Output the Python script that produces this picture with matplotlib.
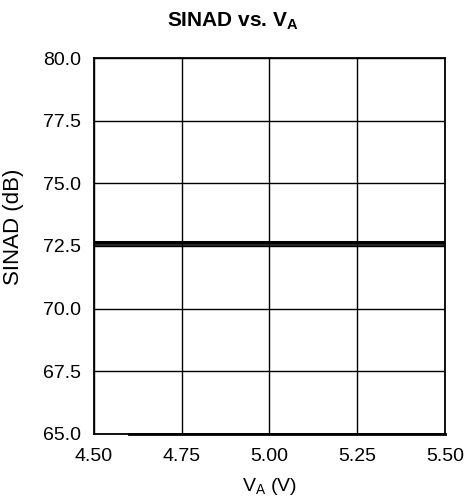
import matplotlib
matplotlib.use('Agg')
import matplotlib.pyplot as plt

plt.rcParams['font.family'] = ['Liberation Sans', 'DejaVu Sans']
plt.rcParams['mathtext.fontset'] = 'custom'
plt.rcParams['mathtext.rm'] = 'Liberation Sans'
plt.rcParams['mathtext.bf'] = 'Liberation Sans:bold'

# data
va = [4.5, 4.75, 5.0, 5.25, 5.5]
sinad_a = [72.67, 72.67, 72.67, 72.67, 72.67]
sinad_b = [72.55, 72.55, 72.55, 72.55, 72.55]
va_low = [4.6, 5.5]
sinad_low = [65.0, 65.0]

x_ticks = [4.50, 4.75, 5.00, 5.25, 5.50]
y_ticks = [65.0, 67.5, 70.0, 72.5, 75.0, 77.5, 80.0]

fig = plt.figure(figsize=(4.65, 5.01), dpi=100)
ax = fig.add_axes([0.202, 0.134, 0.755, 0.750])

ax.plot(va, sinad_a, color='black', linewidth=2.2)
ax.plot(va, sinad_b, color='black', linewidth=1.2)
ax.plot(va_low, sinad_low, color='black', linewidth=2.0, clip_on=False)

ax.set_xlim(4.5, 5.5)
ax.set_ylim(65.0, 80.0)
ax.set_xticks(x_ticks)
ax.set_xticklabels([f'{v:.2f}' for v in x_ticks])
ax.set_yticks(y_ticks)
ax.set_yticklabels([f'{v:.1f}' for v in y_ticks])
ax.tick_params(length=0, labelsize=14)
ax.tick_params(axis='x', pad=10)
ax.tick_params(axis='y', pad=9)
ax.grid(True, color='black', linewidth=1.0)
for s in ax.spines.values():
    s.set_linewidth(1.3)

ax.set_xlabel(r'V$_\mathregular{A}$ (V)', fontsize=14, labelpad=8)
ax.set_ylabel('SINAD (dB)', fontsize=16)
ax.yaxis.set_label_coords(-0.2, 0.55)
fig.text(0.5, 0.958, r'SINAD vs. V$_\mathbf{A}$', fontsize=15, fontweight='bold',
         ha='center', va='center')

fig.savefig('out.png', dpi=100)
